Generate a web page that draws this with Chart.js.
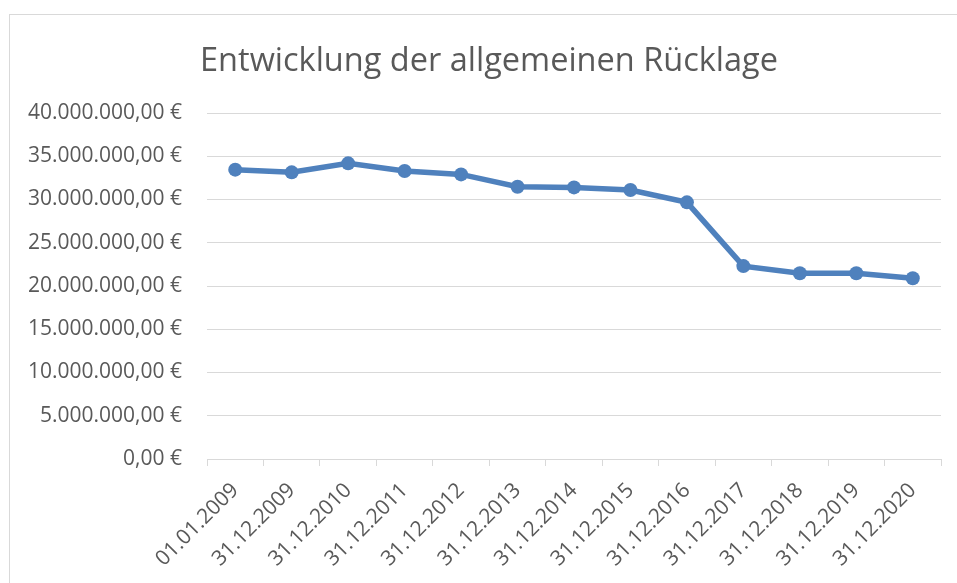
<!DOCTYPE html>
<html lang="de">
<head>
<meta charset="utf-8">
<title>Entwicklung der allgemeinen Rücklage</title>
<script src="https://cdn.jsdelivr.net/npm/chart.js@4/dist/chart.umd.min.js"></script>
<style>
  html, body { margin: 0; padding: 0; background: #fff; }
  #frame {
    position: absolute; left: 9px; top: 14px; width: 948px; height: 569px;
    border-left: 1px solid #d9d9d9; border-top: 1px solid #d9d9d9;
  }
  #wrap { position: absolute; left: 0; top: 0; width: 957px; height: 583px; }
</style>
</head>
<body>
<div id="frame"></div>
<div id="wrap"><canvas id="chart-ruecklage"></canvas></div>
<script>
/* Entwicklung der allgemeinen Rücklage — Stichtagswerte in Euro */

const STICHTAGE = [
  '01.01.2009', '31.12.2009', '31.12.2010', '31.12.2011', '31.12.2012',
  '31.12.2013', '31.12.2014', '31.12.2015', '31.12.2016', '31.12.2017',
  '31.12.2018', '31.12.2019', '31.12.2020',
];

const RUECKLAGE = [
  33450000, 33140000, 34180000, 33290000, 32900000,
  31480000, 31400000, 31100000, 29670000, 22300000,
  21470000, 21470000, 20890000,
];

const Y_MIN  = 0;
const Y_MAX  = 40000000;
const Y_STEP = 5000000;

const TEXT_COLOR = '#595959';
const GRID_COLOR = '#d9d9d9';
const LINE_COLOR = '#4F81BD';
const FONT       = '"Open Sans", "DejaVu Sans", sans-serif';

// ── Helpers ────────────────────────────────────────────────────

function euro(v) {
  const [int, dec] = Number(v).toFixed(2).split('.');
  return int.replace(/\B(?=(\d{3})+(?!\d))/g, '.') + ',' + dec + ' €';
}

// Excel centres the title a bit right of the canvas middle
const titleShift = {
  id: 'titleShift',
  afterLayout(chart) {
    const t = chart.titleBlock;
    if (t) { t.left += 10.5; t.right += 10.5; }
  },
};

// ── Chart ──────────────────────────────────────────────────────

new Chart(document.getElementById('chart-ruecklage'), {
  type: 'line',
  data: {
    labels: STICHTAGE,
    datasets: [{
      label: 'Allgemeine Rücklage',
      data: RUECKLAGE,
      borderColor: LINE_COLOR,
      backgroundColor: LINE_COLOR,
      borderWidth: 5.5,
      pointRadius: 7,
      pointHoverRadius: 7,
      pointBorderWidth: 0,
      tension: 0,
    }],
  },
  plugins: [titleShift],
  options: {
    responsive: true,
    maintainAspectRatio: false,
    animation: false,
    layout: { padding: { left: 16, right: 16, top: 0, bottom: 0 } },
    plugins: {
      legend: { display: false },
      tooltip: { enabled: false },
      title: {
        display: true,
        text: 'Entwicklung der allgemeinen Rücklage',
        color: TEXT_COLOR,
        font: { family: FONT, size: 32.5, weight: 'normal' },
        padding: { top: 42, bottom: 32 },
      },
    },
    scales: {
      x: {
        offset: true,
        afterFit: s => { s.height = 124; },
        border: { display: true, color: GRID_COLOR, width: 1 },
        grid: { offset: true, drawOnChartArea: false, drawTicks: true, tickLength: 7, color: GRID_COLOR },
        ticks: {
          color: TEXT_COLOR,
          font: { family: FONT, size: 21 },
          autoSkip: false,
          minRotation: 45,
          maxRotation: 45,
          padding: 12,
        },
      },
      y: {
        min: Y_MIN,
        max: Y_MAX,
        afterFit: s => { s.width = 191; },
        border: { display: false },
        grid: { color: GRID_COLOR, drawTicks: false, lineWidth: 1 },
        ticks: {
          stepSize: Y_STEP,
          color: TEXT_COLOR,
          font: { family: FONT, size: 21 },
          padding: 25,
          callback: v => euro(v),
        },
      },
    },
  },
});
</script>
</body>
</html>
